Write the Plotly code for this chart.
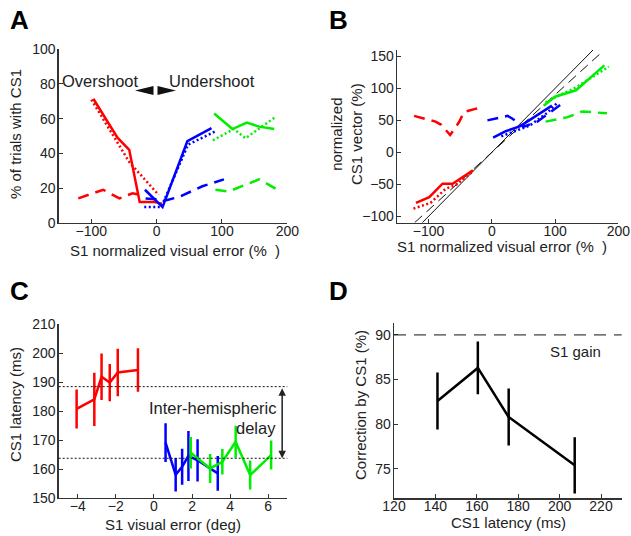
import plotly.graph_objects as go

W, H = 631, 536
RED, BLUE, GREEN = "#ff0000", "#0000ff", "#00ee00"
FONT = "Liberation Sans, Arial, Helvetica, sans-serif"
TXT = "#222222"

# ---------------- Panel A data ----------------
a_red_solid_x = [-97, -60, -42, -26, -5, 8]
a_red_solid_y = [71.5, 49, 42, 12, 12, 11]
a_red_dot_x = [-100, -60, -42, 3]
a_red_dot_y = [71, 46, 35, 16]
a_red_dash_x = [-120, -82, -57, -37, -25]
a_red_dash_y = [14, 19, 14, 17, 16]
a_blue_solid_x = [-18, 9, 47, 84]
a_blue_solid_y = [19, 9, 47, 54.5]
a_blue_dot_x = [-19, 7, 48, 89]
a_blue_dot_y = [9, 9, 45, 52.5]
a_blue_dash_x = [-17, 15, 35, 70, 103]
a_blue_dash_y = [14, 13, 15, 21, 25]
a_green_solid_x = [88, 116, 138, 157, 180]
a_green_solid_y = [63, 54, 57.7, 55.4, 54]
a_green_dot_x = [86, 118, 136, 182]
a_green_dot_y = [47.5, 54, 48.7, 61]
a_green_dash_x = [90, 110, 157, 185]
a_green_dash_y = [19, 18, 25, 19]

# ---------------- Panel B data ----------------
b_unity_x = [-110, 160]
b_gain = 0.9
b_gain_x = [-122, 170]
b_red_solid_x = [-120, -99, -78, -62, -30]
b_red_solid_y = [-79, -70, -49, -49, -28]
b_red_dot_x = [-124, -97, -73, -57, -30]
b_red_dot_y = [-88, -79, -57, -51, -30]
b_red_dash_x = [-123, -89, -80, -66, -52, -44, -15]
b_red_dash_y = [57, 48, 43, 27, 47, 63, 71]
b_blue_solid_x = [2, 22, 45, 75, 95]
b_blue_solid_y = [23, 33, 41, 61, 73]
b_blue_dot_x = [15, 40, 60, 88, 105]
b_blue_dot_y = [25, 35, 42, 62, 79]
b_blue_dash_x = [-7, 25, 32, 50, 72, 108]
b_blue_dash_y = [50, 57, 53, 40, 48, 74]
b_green_solid_x = [82, 100, 133, 178]
b_green_solid_y = [73, 87, 97, 136]
b_green_dot_x = [85, 100, 132, 185]
b_green_dot_y = [78, 86, 101, 134]
b_green_dash_x = [85, 120, 143, 160, 182]
b_green_dash_y = [48, 55, 64, 63, 61]

# ---------------- Panel C data ----------------
c_red_x = [-4.06, -3.13, -2.75, -2.32, -1.9, -0.84]
c_red_y = [180.7, 184.0, 191.8, 189.8, 193.3, 194.1]
c_red_err = [6.7, 9.2, 8.0, 6.4, 8.2, 7.5]
c_blue_x = [0.61, 1.14, 1.48, 1.81, 2.29, 3.35]
c_blue_y = [169.1, 158.0, 160.8, 164.5, 163.0, 158.5]
c_blue_err = [6.7, 5.8, 6.2, 8.6, 7.3, 6.0]
c_green_x = [1.93, 2.95, 3.59, 4.29, 5.05, 6.15]
c_green_y = [165.6, 160.2, 162.5, 169.4, 157.9, 164.8]
c_green_err = [5.4, 5.0, 4.4, 5.5, 5.0, 5.0]
c_levels = [188.4, 163.7]

# ---------------- Panel D data ----------------
d_x = [141, 160.5, 175.4, 207.3]
d_y = [82.6, 86.3, 80.8, 75.4]
d_err = [3.2, 2.95, 3.2, 3.15]
d_s1_gain = 90

fig = go.Figure()

def line(x, y, color, dash, ax, width=2.5):
    fig.add_trace(go.Scatter(x=x, y=y, mode="lines", xaxis=ax[0], yaxis=ax[1],
                             line=dict(color=color, width=width, dash=dash),
                             showlegend=False, hoverinfo="skip"))

SOLID, DOT, DASH = "solid", "2px,2.5px", "11px,7px"
A = ("x", "y"); B = ("x2", "y2"); C = ("x3", "y3"); D = ("x4", "y4")

for xs, ys, col, ds in [
    (a_red_dash_x, a_red_dash_y, RED, DASH), (a_red_dot_x, a_red_dot_y, RED, DOT),
    (a_red_solid_x, a_red_solid_y, RED, SOLID),
    (a_blue_dash_x, a_blue_dash_y, BLUE, DASH), (a_blue_dot_x, a_blue_dot_y, BLUE, DOT),
    (a_blue_solid_x, a_blue_solid_y, BLUE, SOLID),
    (a_green_dash_x, a_green_dash_y, GREEN, DASH), (a_green_dot_x, a_green_dot_y, GREEN, DOT),
    (a_green_solid_x, a_green_solid_y, GREEN, SOLID)]:
    line(xs, ys, col, ds, A)

# panel B reference lines
line(b_unity_x, b_unity_x, "#111111", "solid", B, width=1)
line(b_gain_x, [b_gain * v for v in b_gain_x], "#111111", "10px,6px", B, width=1)
for xs, ys, col, ds in [
    (b_red_dash_x, b_red_dash_y, RED, DASH), (b_red_dot_x, b_red_dot_y, RED, DOT),
    (b_red_solid_x, b_red_solid_y, RED, SOLID),
    (b_blue_dash_x, b_blue_dash_y, BLUE, DASH), (b_blue_dot_x, b_blue_dot_y, BLUE, DOT),
    (b_blue_solid_x, b_blue_solid_y, BLUE, SOLID),
    (b_green_dash_x, b_green_dash_y, GREEN, DASH), (b_green_dot_x, b_green_dot_y, GREEN, DOT),
    (b_green_solid_x, b_green_solid_y, GREEN, SOLID)]:
    line(xs, ys, col, ds, B)

def errline(x, y, e, color, ax):
    fig.add_trace(go.Scatter(x=x, y=y, mode="lines", xaxis=ax[0], yaxis=ax[1],
                             line=dict(color=color, width=2.5),
                             error_y=dict(type="data", array=e, visible=True,
                                          color=color, thickness=2.5, width=0),
                             showlegend=False, hoverinfo="skip"))

errline(c_red_x, c_red_y, c_red_err, RED, C)
errline(c_blue_x, c_blue_y, c_blue_err, BLUE, C)
errline(c_green_x, c_green_y, c_green_err, GREEN, C)
errline(d_x, d_y, d_err, "#000000", D)

axis_common = dict(showline=True, linecolor="#333333", linewidth=1.3, ticks="inside",
                   ticklen=4, tickcolor="#333333", showgrid=False, zeroline=False,
                   automargin=False,
                   tickfont=dict(family=FONT, size=14, color=TXT), fixedrange=True)
xcommon = dict(axis_common, ticklabelstandoff=-5)
ycommon = dict(axis_common, ticklabelstandoff=-1)

def px2x(p):
    return p / W

def px2y(p):
    return 1 - p / H

layout = dict(
    width=W, height=H, autosize=False,
    margin=dict(l=0, r=0, t=0, b=0, pad=0, autoexpand=False),
    paper_bgcolor="white", plot_bgcolor="white", showlegend=False,
    xaxis=dict(xcommon, domain=[px2x(58.7), px2x(287.3)], range=[-150, 200],
               tickvals=[-100, 0, 100, 200], anchor="y"),
    yaxis=dict(ycommon, domain=[px2y(222.7), px2y(49.3)], range=[0, 100],
               tickvals=[0, 20, 40, 60, 80, 100], anchor="x"),
    xaxis2=dict(xcommon, domain=[px2x(397), px2x(618.3)], range=[-150, 200],
                tickvals=[-100, 0, 100, 200], anchor="y2"),
    yaxis2=dict(ycommon, domain=[px2y(222.7), px2y(50)], range=[-110, 160],
                tickvals=[-100, -50, 0, 50, 100, 150], anchor="x2"),
    xaxis3=dict(xcommon, domain=[px2x(58.7), px2x(287.3)], range=[-5, 7],
                tickvals=[-4, -2, 0, 2, 4, 6], anchor="y3"),
    yaxis3=dict(ycommon, domain=[px2y(498), px2y(324)], range=[150, 210],
                tickvals=[150, 160, 170, 180, 190, 200, 210], anchor="x3"),
    xaxis4=dict(xcommon, domain=[px2x(394), px2x(621.7)], range=[120, 230],
                tickvals=[120, 140, 160, 180, 200, 220], anchor="y4"),
    yaxis4=dict(ycommon, domain=[px2y(498.3), px2y(323.3)], range=[71.7, 91.3],
                tickvals=[75, 80, 85, 90], anchor="x4"),
)
fig.update_layout(**layout)

# shapes
shapes = []
for lv in c_levels:
    shapes.append(dict(type="line", xref="x3 domain", yref="y3", x0=0, x1=1, y0=lv, y1=lv,
                       line=dict(color="#111111", width=1, dash="2px,2px")))
shapes.append(dict(type="line", xref="x4 domain", yref="y4", x0=0, x1=1, y0=d_s1_gain,
                   y1=d_s1_gain, line=dict(color="#111111", width=1, dash="12px,8px")))
def ppath(pts):
    return "M " + " L ".join(f"{px2x(x):.5f},{px2y(y):.5f}" for x, y in pts) + " Z"
shapes.append(dict(type="path", xref="paper", yref="paper",
                   path=ppath([(153.5, 86), (153.5, 95), (135, 90.5)]),
                   fillcolor="#111111", line=dict(width=0)))
shapes.append(dict(type="path", xref="paper", yref="paper",
                   path=ppath([(157.5, 86), (157.5, 95), (176, 90.5)]),
                   fillcolor="#111111", line=dict(width=0)))
fig.update_layout(shapes=shapes)

ann = []
def text(t, x, y, size=14, xanchor="center", yanchor="middle", angle=0, bold=False):
    ann.append(dict(text=f"<b>{t}</b>" if bold else t, x=px2x(x), y=px2y(y),
                    xref="paper", yref="paper", showarrow=False, xanchor=xanchor,
                    yanchor=yanchor, textangle=angle, borderpad=0,
                    font=dict(family=FONT, size=size, color="#000000" if bold else TXT)))

text("A", 19, 20, size=26, bold=True)
text("B", 338, 20, size=26, bold=True)
text("C", 19, 291, size=26, bold=True)
text("D", 338, 291, size=26, bold=True)
text("% of trials with CS1", 15, 134, size=15, angle=-90)
text("S1 normalized visual error (%\u00a0\u00a0)", 175, 250, size=15)
text("normalized<br>CS1 vector (%)", 346, 134, size=15, angle=-90)
text("S1 normalized visual error (%\u00a0\u00a0)", 502, 247, size=15)
text("CS1 latency (ms)", 15, 405, size=15, angle=-90)
text("S1 visual error (deg)", 173, 524, size=15)
text("Correction by CS1 (%)", 360, 405, size=15, angle=-90)
text("CS1 latency (ms)", 508, 522, size=15)
text("Overshoot", 140, 81, size=16.5, xanchor="right")
text("Undershoot", 168, 81, size=16.5, xanchor="left")
text("Inter-hemispheric", 277, 408, size=16.5, xanchor="right")
text("delay", 277, 428, size=16.5, xanchor="right")
text("S1 gain", 575, 351, size=15)
ann.append(dict(x=6.73, y=c_levels[1], ax=6.73, ay=c_levels[0], xref="x3", yref="y3",
                axref="x3", ayref="y3", showarrow=True, arrowhead=2, arrowside="end+start",
                arrowsize=1, arrowwidth=1.5, arrowcolor="#222222", text=""))
fig.update_layout(annotations=ann)

fig.write_html("out.html", config={"displayModeBar": False, "staticPlot": True},
               post_script="document.body.style.margin='0';"
                           "document.body.style.overflow='hidden';")
